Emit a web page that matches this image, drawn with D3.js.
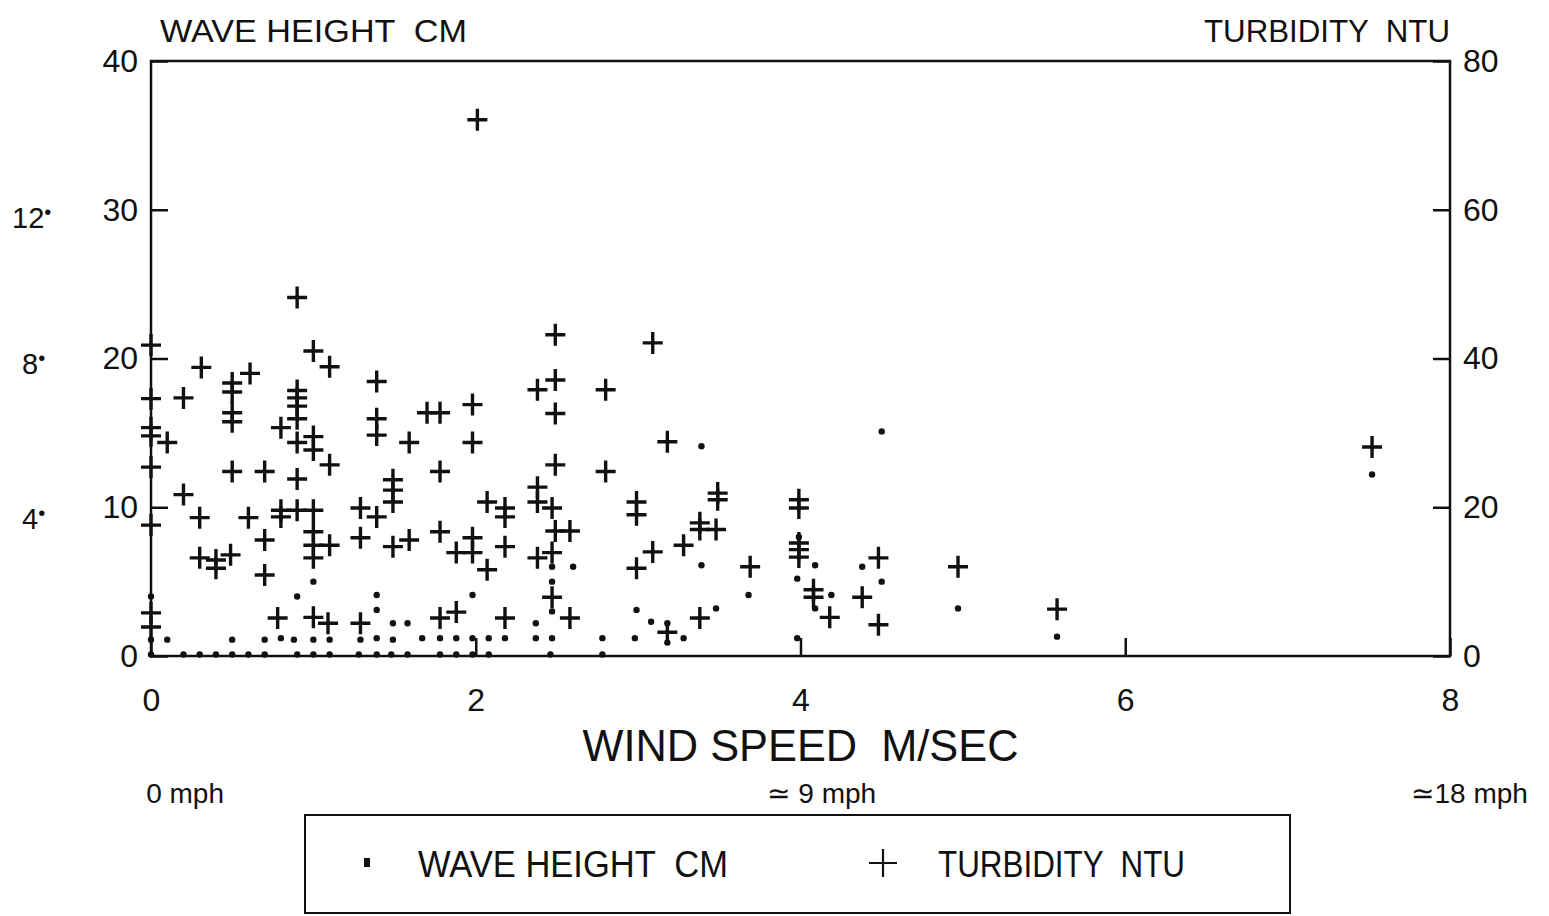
<!DOCTYPE html>
<html>
<head>
<meta charset="utf-8">
<script src="https://cdn.jsdelivr.net/npm/d3@7"></script>
<style>
  html, body { margin: 0; padding: 0; background: #fff; }
  svg text { font-family: "Liberation Sans", "DejaVu Sans", sans-serif; fill: #111; white-space: pre; }
</style>
</head>
<body>
<svg id="chart" width="1549" height="916"></svg>
<script>
// ---------- data ----------
const xTicks = [0, 2, 4, 6, 8];
const leftTicks = [0, 10, 20, 30, 40];
const rightTicks = [0, 20, 40, 60, 80];
const inchLabels = ["12", "8", "4"];
const inchAt = [29.5, 19.7, 9.3];           // wave-height cm level of each inch label
const mphLabels = ["0 mph", "\u2243 9 mph", "\u224318 mph"];
const mphAt = [0.21, 4.13, 8.12];           // wind speed under which each mph label sits

// wave height (cm) dots: wind speed m/s, height cm
const waveWind = [
  0, 0.2, 0.3, 0.4, 0.5, 0.6, 0.7, 0.9, 1.0, 1.1, 1.28, 1.39, 1.48, 1.58, 1.78, 1.88, 1.98, 2.08, 2.46, 2.78,
  0, 0.1, 0.5, 0.7, 0.8, 0.88, 1.0, 1.1, 1.29, 1.39, 1.49, 1.67, 1.78, 1.88, 1.98, 2.08, 2.18, 2.37, 2.47, 2.78, 2.98, 3.28, 3.98, 3.18,
  1.49, 1.58, 2.37, 3.08, 3.18,
  0, 0.9, 1.0, 1.39, 1.39, 1.98, 2.47, 2.47, 2.47, 2.6, 2.99,
  3.39, 3.39, 3.48, 3.68, 3.99, 3.98, 4.09, 4.09, 4.19, 4.38, 4.5, 4.5, 4.97, 5.58, 7.52
];
const waveCm = [
  0.1, 0.1, 0.1, 0.1, 0.1, 0.1, 0.1, 0.1, 0.1, 0.1, 0.1, 0.1, 0.1, 0.1, 0.1, 0.1, 0.1, 0.1, 0.1, 0.1,
  1.1, 1.1, 1.1, 1.1, 1.2, 1.1, 1.1, 1.1, 1.1, 1.2, 1.1, 1.2, 1.2, 1.2, 1.2, 1.2, 1.2, 1.2, 1.2, 1.2, 1.2, 1.2, 1.2, 0.9,
  2.2, 2.2, 2.2, 2.3, 2.2,
  4.0, 4.0, 5.0, 4.1, 3.1, 4.1, 5.0, 3.0, 6.0, 6.0, 3.1,
  14.1, 6.1, 3.2, 4.1, 8.0, 5.2, 6.1, 3.2, 4.1, 6.0, 5.0, 15.1, 3.2, 1.3, 12.2
];

// turbidity (NTU) crosses: wind speed m/s, turbidity NTU
const turbWind = [
  0, 0, 0, 0, 0, 0, 0, 0,
  0.1, 0.2, 0.2, 0.31, 0.3, 0.3, 0.4, 0.4, 0.49,
  0.5, 0.5, 0.5, 0.5, 0.5, 0.61, 0.6, 0.7, 0.7, 0.7, 0.78, 0.8, 0.8, 0.8,
  0.9, 0.9, 0.9, 0.9, 0.9, 0.9, 0.9, 0.9,
  1.0, 1.0, 1.0, 1.0, 1.0, 1.0, 1.0, 1.0, 1.09, 1.1, 1.1, 1.1,
  1.29, 1.29, 1.29, 1.39, 1.39, 1.39, 1.39, 1.49, 1.49, 1.49, 1.49, 1.59, 1.59, 1.7,
  1.78, 1.78, 1.78, 1.78, 1.88, 1.88, 1.98, 1.98, 1.98, 1.98, 2.01, 2.07, 2.07,
  2.18, 2.18, 2.18, 2.18, 2.38, 2.38, 2.38, 2.38, 2.47, 2.47, 2.47,
  2.49, 2.49, 2.49, 2.49, 2.49, 2.58, 2.58, 2.8, 2.8,
  2.99, 2.99, 2.99, 3.09, 3.09, 3.18, 3.18, 3.28, 3.38, 3.38, 3.38, 3.48, 3.49, 3.49, 3.69,
  3.99, 3.99, 3.99, 3.99, 3.99, 4.08, 4.08, 4.18, 4.38, 4.48, 4.48, 4.97, 5.58, 7.52
];
const turbNtu = [
  41.8, 34.6, 30.7, 29.6, 25.4, 17.6, 5.8, 3.9,
  28.7, 34.7, 21.7, 38.8, 18.6, 13.2, 12.9, 11.8, 13.6,
  36.7, 35.5, 32.7, 31.5, 24.8, 38.0, 18.6, 24.8, 15.6, 10.9, 5.1, 30.7, 19.6, 18.7,
  48.2, 35.7, 34.7, 33.6, 31.9, 28.7, 23.8, 19.6,
  41.0, 29.5, 27.7, 19.6, 16.7, 14.9, 13.2, 5.2, 4.4, 38.9, 25.7, 14.9,
  19.9, 15.9, 4.4, 36.9, 31.9, 29.7, 18.7, 23.7, 22.3, 20.7, 14.7, 28.7, 15.6, 32.7,
  32.7, 24.8, 16.7, 5.1, 13.9, 5.9, 33.8, 28.7, 15.9, 13.9, 72.1, 20.7, 11.6,
  19.9, 18.7, 14.7, 5.1, 35.8, 22.7, 20.7, 13.2, 19.9, 13.9, 7.9,
  43.2, 37.1, 32.6, 25.7, 16.8, 16.8, 5.1, 35.8, 24.8,
  20.7, 19.0, 11.8, 42.1, 14.0, 28.8, 3.2, 14.9, 17.9, 17.0, 5.1, 17.0, 21.9, 21.0, 12.0,
  21.0, 19.9, 15.2, 14.3, 13.3, 8.9, 7.9, 5.2, 7.9, 13.2, 4.2, 12.0, 6.3, 28.1
];

// ---------- drawing ----------
const svg = d3.select("#chart");
const x = d3.scaleLinear().domain([0, 8]).range([151, 1450]);
const yL = d3.scaleLinear().domain([0, 40]).range([656, 61]);
const yR = d3.scaleLinear().domain([0, 80]).range([656, 61]);

// frame
svg.append("rect")
  .attr("x", x(0)).attr("y", yL(40))
  .attr("width", x(8) - x(0)).attr("height", yL(0) - yL(40))
  .attr("fill", "none").attr("stroke", "#111").attr("stroke-width", 2.5);

// axes
const styleAxis = g => {
  g.select(".domain").remove();
  g.selectAll(".tick line").attr("stroke", "#111").attr("stroke-width", 2.5);
  g.selectAll(".tick text").attr("font-size", 32).attr("fill", "#111")
    .style("font-family", '"Liberation Sans", "DejaVu Sans", sans-serif');
};
svg.append("g").attr("transform", `translate(${x(0)},0)`)
  .call(d3.axisLeft(yL).tickValues(leftTicks).tickSize(-17).tickPadding(13).tickFormat(d3.format("d")))
  .call(styleAxis);
svg.append("g").attr("transform", `translate(${x(8)},0)`)
  .call(d3.axisRight(yR).tickValues(rightTicks).tickSize(-17).tickPadding(13).tickFormat(d3.format("d")))
  .call(styleAxis);
svg.append("g").attr("transform", `translate(0,${yL(0)})`)
  .call(d3.axisBottom(x).tickValues(xTicks).tickSize(-18).tickPadding(32).tickFormat(d3.format("d")))
  .call(styleAxis);

// axis titles
svg.append("text").attr("x", 160).attr("y", 42).attr("font-size", 31)
  .attr("textLength", 307).attr("lengthAdjust", "spacingAndGlyphs").text("WAVE HEIGHT  CM");
svg.append("text").attr("x", 1450).attr("y", 42).attr("font-size", 31).attr("text-anchor", "end")
  .attr("textLength", 246).attr("lengthAdjust", "spacingAndGlyphs").text("TURBIDITY  NTU");
svg.append("text").attr("x", x(4)).attr("y", 761).attr("font-size", 44).attr("text-anchor", "middle")
  .attr("textLength", 436).attr("lengthAdjust", "spacingAndGlyphs").text("WIND SPEED  M/SEC");

// inch labels (number with a raised inch dot)
const inch = svg.selectAll("text.inch").data(inchLabels).join("text").attr("class", "inch")
  .attr("x", (d, i) => i === 0 ? 12 : 22)
  .attr("y", (d, i) => yL(inchAt[i]) + 11)
  .attr("font-size", 29);
inch.append("tspan").text(d => d);
inch.append("tspan").attr("font-size", 20).attr("dy", -9).text("\u2022");

// mph labels
svg.selectAll("text.mph").data(mphLabels).join("text").attr("class", "mph")
  .attr("x", (d, i) => x(mphAt[i]))
  .attr("y", 803).attr("font-size", 28).attr("text-anchor", "middle")
  .text(d => d);

// wave height dots
const waveData = waveWind.map((w, i) => ({ w, v: waveCm[i] }));
svg.append("g").selectAll("circle").data(waveData).join("circle")
  .attr("cx", d => x(d.w)).attr("cy", d => yL(d.v)).attr("r", 3.2).attr("fill", "#111");

// turbidity crosses
const turbData = turbWind.map((w, i) => ({ w, v: turbNtu[i] }));
const crossPath = (hw, hh) => `M${-hw},0H${hw}M0,${-hh}V${hh}`;
svg.append("g").selectAll("path").data(turbData).join("path")
  .attr("transform", d => `translate(${x(d.w)},${yR(d.v)})`)
  .attr("d", crossPath(10, 11)).attr("stroke", "#111").attr("stroke-width", 3.4).attr("fill", "none");

// legend
const lg = svg.append("g");
lg.append("rect").attr("x", 305).attr("y", 815).attr("width", 985).attr("height", 98)
  .attr("fill", "none").attr("stroke", "#111").attr("stroke-width", 2);
lg.append("rect").attr("x", 364).attr("y", 858).attr("width", 6).attr("height", 9).attr("fill", "#111");
lg.append("text").attr("x", 418).attr("y", 877).attr("font-size", 36)
  .attr("textLength", 310).attr("lengthAdjust", "spacingAndGlyphs").text("WAVE HEIGHT  CM");
lg.append("path").attr("transform", "translate(883,863)").attr("d", crossPath(14, 14))
  .attr("stroke", "#111").attr("stroke-width", 2.2).attr("fill", "none");
lg.append("text").attr("x", 938).attr("y", 877).attr("font-size", 36)
  .attr("textLength", 247).attr("lengthAdjust", "spacingAndGlyphs").text("TURBIDITY  NTU");
</script>
</body>
</html>
